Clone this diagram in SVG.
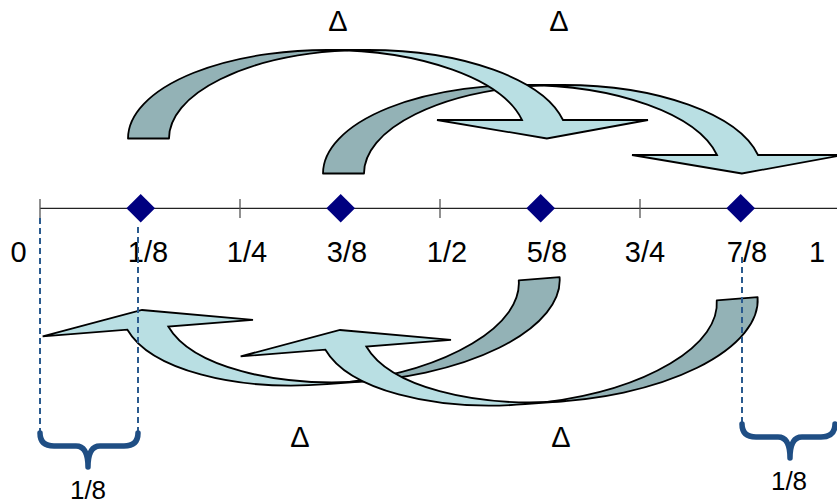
<svg xmlns="http://www.w3.org/2000/svg" width="837" height="504" viewBox="0 0 837 504">
<style>
.lbl{font-family:"Liberation Sans",Arial,sans-serif;font-size:29px;fill:#000;text-anchor:middle}
.sm{font-size:26px}
.back{fill:#93B2B6;stroke:#000;stroke-width:1.8;stroke-linejoin:round}
.front{fill:#B9DFE3;stroke:#000;stroke-width:1.8;stroke-linejoin:miter}
.tick{stroke:#555;stroke-width:1.3}
.dash{stroke:#2A5A8E;stroke-width:2;stroke-dasharray:6 4;fill:none}
.brace{stroke:#1F4E84;stroke-width:5.5;fill:none;stroke-linecap:round;stroke-linejoin:round}
.pt{fill:#000080}
</style>
<defs>
<g id="carrow">
<path class="back" d="M128,138.5 A199.2,88.5 0 0 1 347.7,50.47 A199.2,88.5 0 0 0 169,138.5 Z"/>
<path class="front" d="M546.9,138.5 L437,120 L522,120 A199.2,88.5 0 0 0 327.2,50 L368.2,50 A199.2,88.5 0 0 1 563,120 L648,120 Z"/>
</g>
</defs>
<g id="connectors">
<use href="#carrow" transform="translate(195,35)"/>
<use href="#carrow"/>
<use href="#carrow" transform="translate(142,310) rotate(175.5) translate(-546.9,-138.5)"/>
<use href="#carrow" transform="translate(340,330) rotate(175.5) translate(-546.9,-138.5)"/>
</g>
<g id="axis">
<line x1="40" y1="208.3" x2="837" y2="208.3" stroke="#222" stroke-width="1.2"/>
<line class="tick" x1="40" y1="199" x2="40" y2="218"/>
<line class="tick" x1="240" y1="199" x2="240" y2="218"/>
<line class="tick" x1="440" y1="199" x2="440" y2="218"/>
<line class="tick" x1="640" y1="199" x2="640" y2="218"/>
</g>
<g id="points">
<path class="pt" d="M140.7,194 L155,208.3 L140.7,222.6 L126.4,208.3 Z"/>
<path class="pt" d="M340.7,194 L355,208.3 L340.7,222.6 L326.4,208.3 Z"/>
<path class="pt" d="M540.7,194 L555,208.3 L540.7,222.6 L526.4,208.3 Z"/>
<path class="pt" d="M740.7,194 L755,208.3 L740.7,222.6 L726.4,208.3 Z"/>
</g>
<g id="axis-labels">
<text class="lbl" x="18.5" y="262">0</text>
<text class="lbl" x="148" y="262">1/8</text>
<text class="lbl" x="247" y="262">1/4</text>
<text class="lbl" x="347" y="262">3/8</text>
<text class="lbl" x="447" y="262">1/2</text>
<text class="lbl" x="547" y="262">5/8</text>
<text class="lbl" x="645" y="262">3/4</text>
<text class="lbl" x="747" y="262">7/8</text>
<text class="lbl" x="817" y="262">1</text>
</g>
<g id="delta-labels">
<text class="lbl" x="338" y="31">Δ</text>
<text class="lbl" x="559" y="31">Δ</text>
<text class="lbl" x="300" y="447">Δ</text>
<text class="lbl" x="561" y="447">Δ</text>
</g>
<g id="guides">
<line class="dash" x1="40" y1="218" x2="40" y2="432"/>
<line class="dash" x1="138" y1="227" x2="138" y2="432"/>
<line class="dash" x1="742" y1="257" x2="742" y2="423"/>
</g>
<g id="brace-left">
<path class="brace" d="M40,433 Q40,446 54,446 L76,446 Q88,446 88,467 Q88,446 100,446 L124,446 Q138,446 138,433"/>
<text class="lbl sm" x="88" y="499">1/8</text>
</g>
<g id="brace-right">
<path class="brace" d="M742,424 Q742,437 756,437 L778,437 Q790,437 790,458 Q790,437 802,437 L821,437 Q835,437 835,424"/>
<text class="lbl sm" x="789" y="490">1/8</text>
</g>
</svg>
